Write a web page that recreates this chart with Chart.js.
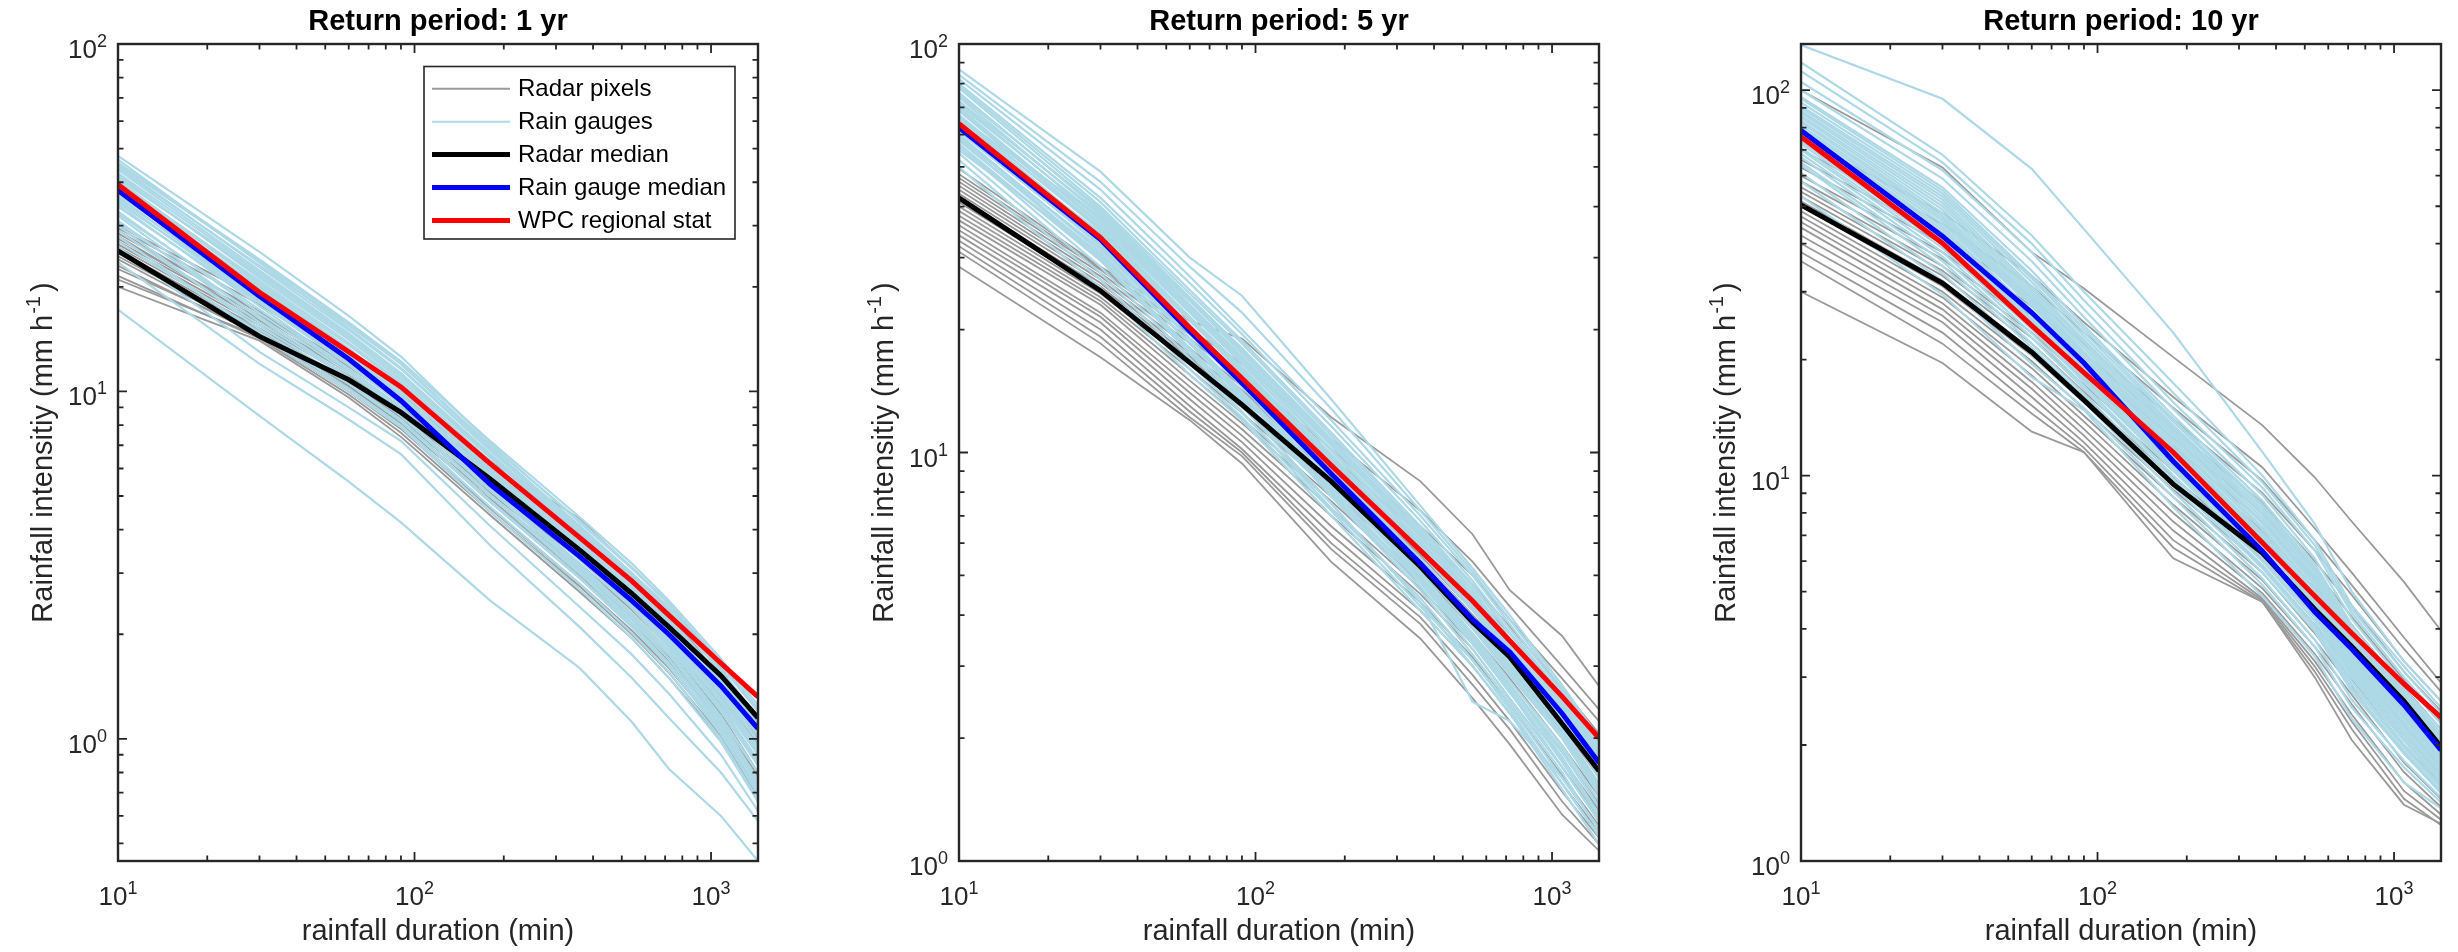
<!DOCTYPE html>
<html>
<head>
<meta charset="utf-8">
<title>Rainfall intensity-duration curves</title>
<script src="https://cdn.jsdelivr.net/npm/chart.js@4.4.1/dist/chart.umd.min.js"></script>
<style>
  body { margin: 0; background: #fff; overflow: hidden; }
  #wrap { position: relative; width: 2458px; height: 952px; }
  canvas { position: absolute; top: 0; }
</style>
</head>
<body>
<div id="wrap">
  <canvas id="p1" width="841" height="952" style="left:0px"></canvas>
  <canvas id="p2" width="842" height="952" style="left:841px"></canvas>
  <canvas id="p3" width="775" height="952" style="left:1683px"></canvas>
</div>
<script>
// durations (min) shared by every curve
const durations = [10, 30, 60, 90, 180, 360, 540, 720, 1080, 1440];

// --- return period 1 yr ---
const wpc1 = [39.4, 19.3, 13.0, 10.3, 6.2, 3.8, 2.85, 2.27, 1.65, 1.32];
const gaugeMedian1 = [37.9, 18.8, 12.4, 9.4, 5.4, 3.35, 2.5, 2.0, 1.42, 1.07];
const radarMedian1 = [25.4, 14.4, 10.8, 8.7, 5.6, 3.5, 2.62, 2.1, 1.52, 1.15];
const gauges1 = [
  [47.6, 25.2, 16.5, 12.6, 7.1, 4.2, 3.1, 2.45, 1.66, 1.22],
  [45.5, 24.0, 15.8, 12.2, 7.2, 4.35, 3.2, 2.5, 1.7, 1.25],
  [43.5, 22.3, 14.7, 11.3, 6.6, 4.0, 2.95, 2.3, 1.56, 1.15],
  [42.0, 21.2, 14.1, 10.8, 6.3, 3.8, 2.75, 2.15, 1.45, 1.05],
  [40.5, 20.3, 13.3, 10.1, 6.0, 3.6, 2.6, 2.02, 1.36, 0.98],
  [38.5, 19.6, 12.8, 9.8, 5.75, 3.45, 2.5, 1.95, 1.3, 0.92],
  [36.5, 18.3, 12.1, 9.3, 5.5, 3.3, 2.4, 1.86, 1.22, 0.86],
  [34.5, 17.6, 11.6, 9.0, 5.3, 3.2, 2.3, 1.8, 1.16, 0.8],
  [32.0, 16.2, 11.0, 8.5, 5.0, 3.0, 2.2, 1.7, 1.1, 0.75],
  [30.0, 15.1, 10.5, 8.2, 4.8, 2.9, 2.1, 1.62, 1.04, 0.69],
  [23.5, 12.0, 8.3, 6.6, 3.6, 2.1, 1.5, 1.15, 0.8, 0.58],
  [17.2, 8.5, 5.5, 4.2, 2.5, 1.6, 1.12, 0.82, 0.6, 0.445],
  [46.5, 23.5, 15.2, 11.7, 6.8, 4.1, 3.0, 2.4, 1.62, 1.2],
  [44.0, 23.0, 15.5, 12.0, 6.9, 4.1, 3.0, 2.35, 1.58, 1.15],
  [41.0, 21.8, 14.5, 11.2, 6.6, 3.95, 2.9, 2.25, 1.5, 1.08],
  [39.5, 20.5, 13.6, 10.5, 6.2, 3.7, 2.7, 2.1, 1.42, 1.02],
  [37.5, 19.0, 12.4, 9.5, 5.6, 3.4, 2.45, 1.9, 1.28, 0.9],
  [35.5, 18.0, 11.9, 9.2, 5.45, 3.3, 2.4, 1.85, 1.2, 0.84],
  [33.0, 16.8, 11.3, 8.8, 5.2, 3.1, 2.25, 1.75, 1.12, 0.76],
  [31.0, 15.8, 10.9, 8.5, 5.0, 3.0, 2.15, 1.65, 1.06, 0.72],
  [28.0, 14.5, 10.0, 7.9, 4.5, 2.7, 1.95, 1.5, 0.98, 0.66],
  [26.0, 13.0, 9.0, 7.2, 4.1, 2.4, 1.75, 1.35, 0.9, 0.62],
  [45.0, 23.8, 15.6, 12.0, 7.0, 4.25, 3.12, 2.45, 1.66, 1.2],
  [42.5, 22.0, 14.6, 11.2, 6.5, 3.9, 2.85, 2.22, 1.5, 1.1],
  [40.0, 20.8, 13.8, 10.6, 6.2, 3.72, 2.7, 2.1, 1.4, 1.02],
  [38.0, 19.8, 13.0, 10.0, 5.9, 3.55, 2.58, 2.0, 1.34, 0.95],
  [36.0, 18.9, 12.5, 9.6, 5.65, 3.4, 2.47, 1.92, 1.27, 0.9],
  [34.0, 18.0, 12.0, 9.3, 5.45, 3.28, 2.38, 1.84, 1.2, 0.85],
  [32.5, 17.2, 11.5, 8.9, 5.25, 3.15, 2.28, 1.76, 1.14, 0.8],
  [30.5, 16.4, 11.0, 8.6, 5.05, 3.05, 2.2, 1.7, 1.08, 0.74],
  [29.0, 15.5, 10.6, 8.3, 4.85, 2.92, 2.12, 1.63, 1.03, 0.7],
  [27.0, 14.8, 10.2, 8.0, 4.65, 2.8, 2.02, 1.56, 1.0, 0.67],
  [44.5, 22.8, 15.0, 11.6, 6.75, 4.05, 2.98, 2.32, 1.57, 1.13],
  [41.5, 21.5, 14.3, 11.0, 6.45, 3.85, 2.8, 2.18, 1.47, 1.06],
  [39.0, 20.0, 13.2, 10.3, 6.1, 3.65, 2.65, 2.06, 1.38, 0.99],
  [37.0, 19.3, 12.7, 9.7, 5.8, 3.5, 2.52, 1.96, 1.31, 0.93],
  [35.0, 18.6, 12.2, 9.4, 5.55, 3.35, 2.43, 1.88, 1.24, 0.87]
];
const radar1 = [
  [30.0, 18.5, 12.8, 9.8, 6.3, 4.3, 3.1, 2.45, 1.6, 1.1],
  [28.5, 17.0, 12.0, 9.2, 5.9, 3.8, 2.8, 2.2, 1.45, 1.0],
  [27.0, 16.2, 11.3, 8.8, 5.6, 3.6, 2.6, 2.05, 1.38, 0.95],
  [26.0, 15.5, 11.0, 8.6, 5.3, 3.4, 2.5, 1.95, 1.3, 0.9],
  [25.0, 15.0, 10.5, 8.3, 5.1, 3.2, 2.35, 1.85, 1.22, 0.84],
  [24.0, 14.6, 10.2, 8.0, 4.9, 3.05, 2.25, 1.75, 1.15, 0.78],
  [22.5, 14.8, 10.5, 8.2, 4.8, 2.95, 2.15, 1.68, 1.1, 0.74],
  [21.0, 14.4, 10.0, 7.8, 4.6, 2.8, 2.05, 1.6, 1.05, 0.7],
  [20.0, 14.0, 9.6, 7.4, 4.4, 2.65, 1.95, 1.5, 1.0, 0.66],
  [29.0, 16.8, 11.8, 9.3, 6.0, 4.0, 2.95, 2.3, 1.5, 1.02],
  [29.5, 17.8, 12.4, 9.6, 6.1, 4.1, 3.0, 2.35, 1.55, 1.06],
  [27.5, 16.5, 11.6, 9.0, 5.7, 3.7, 2.7, 2.1, 1.4, 0.97],
  [26.5, 15.8, 11.1, 8.7, 5.45, 3.5, 2.55, 2.0, 1.33, 0.92],
  [25.5, 15.2, 10.7, 8.4, 5.2, 3.3, 2.4, 1.9, 1.25, 0.86],
  [24.5, 14.9, 10.4, 8.1, 5.0, 3.1, 2.3, 1.8, 1.18, 0.8],
  [23.0, 14.5, 10.3, 8.1, 4.85, 3.0, 2.2, 1.72, 1.12, 0.76],
  [21.5, 14.2, 9.8, 7.6, 4.5, 2.75, 2.0, 1.55, 1.02, 0.68],
  [28.0, 16.0, 11.5, 9.0, 5.8, 3.9, 2.9, 2.25, 1.48, 1.0]
];

// --- return period 5 yr ---
const wpc5 = [63.8, 33.6, 20.2, 15.2, 9.3, 5.75, 4.33, 3.46, 2.53, 2.0];
const gaugeMedian5 = [62.4, 33.2, 19.8, 14.8, 8.87, 5.35, 3.9, 3.25, 2.3, 1.74];
const radarMedian5 = [42.0, 24.9, 16.6, 13.1, 8.5, 5.25, 3.84, 3.16, 2.17, 1.66];
const gauges5 = [
  [86.7, 48.7, 30.0, 24.2, 13.5, 7.4, 5.2, 4.0, 2.7, 2.0],
  [82.0, 44.0, 27.0, 20.0, 12.0, 7.0, 5.0, 3.8, 2.6, 1.93],
  [78.0, 40.0, 24.5, 18.5, 11.0, 6.5, 4.7, 3.6, 2.5, 1.85],
  [74.0, 38.0, 23.0, 17.2, 10.4, 6.2, 4.5, 3.45, 2.4, 1.78],
  [70.0, 36.0, 22.0, 16.5, 9.9, 5.9, 4.3, 3.3, 2.3, 1.7],
  [67.0, 35.0, 21.0, 15.8, 9.5, 5.7, 4.1, 3.15, 2.2, 1.6],
  [65.0, 34.0, 20.5, 15.2, 9.1, 5.5, 3.9, 3.0, 2.1, 1.52],
  [62.0, 32.0, 19.5, 14.5, 8.7, 5.2, 3.7, 2.85, 2.0, 1.45],
  [60.0, 31.0, 18.5, 13.8, 8.3, 5.0, 3.5, 2.7, 1.85, 1.35],
  [57.0, 29.5, 17.5, 13.0, 7.9, 4.7, 3.3, 2.5, 1.7, 1.25],
  [54.0, 27.5, 16.5, 12.5, 7.5, 4.3, 2.45, 2.2, 1.6, 1.2],
  [50.0, 25.3, 15.5, 12.0, 7.0, 4.1, 3.0, 2.3, 1.5, 1.1],
  [84.0, 46.0, 28.5, 22.0, 12.8, 7.2, 5.1, 3.9, 2.65, 1.96],
  [80.0, 42.0, 26.0, 19.5, 11.6, 6.8, 4.85, 3.7, 2.55, 1.9],
  [76.0, 39.0, 23.8, 17.8, 10.7, 6.35, 4.6, 3.5, 2.45, 1.8],
  [72.0, 37.0, 22.5, 16.8, 10.1, 6.0, 4.4, 3.35, 2.35, 1.72],
  [68.5, 35.5, 21.5, 16.2, 9.7, 5.8, 4.2, 3.2, 2.25, 1.65],
  [63.5, 33.0, 20.0, 14.8, 8.9, 5.35, 3.8, 2.9, 2.05, 1.5],
  [58.5, 30.0, 18.0, 13.4, 8.1, 4.85, 3.4, 2.6, 1.78, 1.3],
  [52.0, 26.5, 16.0, 12.2, 7.2, 4.2, 3.1, 2.35, 1.55, 1.15],
  [66.0, 37.5, 23.5, 17.5, 10.5, 6.3, 4.4, 3.3, 2.25, 1.62],
  [75.0, 39.5, 24.0, 18.0, 10.8, 6.4, 4.6, 3.5, 2.45, 1.82],
  [71.0, 37.5, 22.8, 17.0, 10.2, 6.1, 4.4, 3.35, 2.35, 1.74],
  [69.0, 36.5, 22.2, 16.6, 9.8, 5.85, 4.25, 3.25, 2.28, 1.68],
  [66.5, 35.2, 21.2, 16.0, 9.6, 5.75, 4.15, 3.18, 2.22, 1.62],
  [64.0, 33.8, 20.4, 15.4, 9.2, 5.5, 3.95, 3.05, 2.12, 1.55],
  [61.0, 32.3, 19.6, 14.6, 8.8, 5.25, 3.75, 2.88, 2.02, 1.47],
  [59.0, 31.5, 19.0, 14.1, 8.5, 5.1, 3.6, 2.76, 1.92, 1.4],
  [56.0, 29.8, 17.8, 13.3, 8.0, 4.8, 3.4, 2.58, 1.78, 1.3],
  [55.0, 30.5, 18.6, 14.0, 8.4, 5.0, 3.55, 2.7, 1.88, 1.36],
  [72.5, 38.5, 23.5, 17.6, 10.6, 6.3, 4.5, 3.42, 2.4, 1.76],
  [79.0, 41.0, 25.0, 18.8, 11.2, 6.6, 4.75, 3.62, 2.52, 1.87],
  [63.0, 34.5, 21.2, 15.6, 9.3, 5.45, 3.85, 2.95, 2.06, 1.5],
  [60.0, 30.0, 17.5, 13.0, 7.5, 4.3, 3.0, 2.3, 1.55, 1.15],
  [56.0, 28.5, 17.0, 12.6, 7.3, 4.4, 3.1, 2.4, 1.6, 1.2],
  [64.0, 32.0, 19.0, 14.0, 8.2, 4.8, 3.4, 2.6, 1.7, 1.25],
  [70.0, 35.0, 20.5, 15.0, 8.6, 5.0, 3.5, 2.7, 1.8, 1.3],
  [58.0, 30.5, 18.5, 13.6, 7.8, 4.6, 3.2, 2.45, 1.65, 1.18],
  [66.0, 34.0, 20.0, 14.6, 8.4, 4.9, 3.45, 2.65, 1.75, 1.28]
];
const radar5 = [
  [49.5, 28.5, 21.0, 19.0, 12.2, 8.5, 6.3, 4.6, 3.56, 2.68],
  [47.0, 28.0, 19.5, 15.5, 10.2, 6.6, 5.0, 3.9, 2.8, 2.2],
  [45.0, 27.0, 18.5, 14.5, 9.5, 6.0, 4.5, 3.6, 2.55, 1.95],
  [43.0, 26.0, 17.5, 14.0, 9.0, 5.6, 4.1, 3.3, 2.3, 1.75],
  [41.0, 25.0, 17.0, 13.3, 8.6, 5.4, 3.9, 3.1, 2.15, 1.6],
  [39.0, 24.0, 16.0, 12.5, 8.1, 5.1, 3.7, 2.9, 2.0, 1.5],
  [37.0, 23.0, 15.0, 11.8, 7.6, 4.8, 3.5, 2.7, 1.85, 1.38],
  [35.0, 21.5, 14.0, 11.0, 7.0, 4.5, 3.3, 2.5, 1.7, 1.28],
  [33.0, 20.0, 13.0, 10.2, 6.3, 4.1, 3.0, 2.3, 1.55, 1.18],
  [31.0, 18.5, 12.2, 9.8, 5.8, 3.8, 2.7, 2.1, 1.4, 1.1],
  [28.5, 17.1, 12.0, 9.4, 5.4, 3.5, 2.5, 1.93, 1.3, 1.06],
  [48.0, 28.3, 20.0, 16.5, 10.8, 7.2, 5.4, 4.2, 3.0, 2.35],
  [46.0, 27.5, 19.0, 15.0, 9.8, 6.3, 4.75, 3.75, 2.65, 2.05],
  [44.0, 26.5, 18.0, 14.2, 9.2, 5.8, 4.3, 3.45, 2.4, 1.85],
  [42.0, 25.5, 17.2, 13.6, 8.8, 5.5, 4.0, 3.2, 2.2, 1.68],
  [40.0, 24.5, 16.5, 12.9, 8.3, 5.25, 3.8, 3.0, 2.07, 1.55],
  [38.0, 23.5, 15.5, 12.1, 7.8, 4.95, 3.6, 2.8, 1.92, 1.44],
  [36.0, 22.0, 14.5, 11.4, 7.3, 4.65, 3.4, 2.6, 1.78, 1.33],
  [34.0, 20.8, 13.5, 10.6, 6.6, 4.3, 3.15, 2.4, 1.62, 1.22],
  [32.0, 19.2, 12.6, 10.0, 6.0, 3.95, 2.85, 2.2, 1.48, 1.14]
];

// --- return period 10 yr ---
const wpc10 = [75.7, 40.1, 24.5, 18.5, 11.5, 6.7, 4.87, 3.9, 2.88, 2.36];
const gaugeMedian10 = [78.6, 41.8, 26.5, 19.6, 10.9, 6.37, 4.43, 3.55, 2.54, 1.94];
const radarMedian10 = [50.4, 31.6, 20.9, 15.7, 9.5, 6.3, 4.5, 3.6, 2.6, 1.98];
const gauges10 = [
  [131.0, 95.0, 62.5, 43.6, 23.5, 11.5, 7.5, 5.0, 3.3, 2.6],
  [118.0, 68.0, 42.0, 30.0, 17.4, 10.0, 6.8, 4.6, 3.2, 2.5],
  [105.0, 62.0, 38.0, 27.0, 15.5, 9.3, 6.4, 4.4, 3.0, 2.34],
  [96.0, 56.0, 34.0, 24.5, 14.3, 8.6, 5.9, 4.1, 2.8, 2.2],
  [90.0, 52.0, 31.0, 22.5, 13.3, 8.0, 5.5, 3.85, 2.65, 2.05],
  [85.0, 48.0, 29.0, 21.0, 12.5, 7.5, 5.2, 3.6, 2.5, 1.95],
  [80.0, 45.0, 27.5, 20.0, 11.8, 7.0, 4.9, 3.4, 2.35, 1.82],
  [75.0, 42.0, 25.5, 18.7, 11.0, 6.6, 4.6, 3.2, 2.2, 1.7],
  [70.0, 39.0, 24.0, 17.5, 10.3, 6.1, 4.3, 3.0, 2.05, 1.6],
  [64.0, 35.0, 21.5, 16.0, 9.4, 5.6, 3.95, 2.75, 1.9, 1.5],
  [58.0, 32.0, 19.5, 15.0, 8.8, 5.2, 3.6, 2.5, 1.75, 1.42],
  [53.0, 29.5, 18.0, 14.8, 8.3, 4.86, 3.4, 2.34, 1.6, 1.37],
  [112.0, 65.0, 40.0, 28.5, 16.4, 9.6, 6.6, 4.5, 3.1, 2.42],
  [100.0, 59.0, 36.0, 25.8, 14.9, 8.9, 6.1, 4.25, 2.9, 2.27],
  [93.0, 54.0, 32.5, 23.5, 13.8, 8.3, 5.7, 3.95, 2.72, 2.12],
  [87.5, 50.0, 30.0, 21.8, 12.9, 7.75, 5.35, 3.72, 2.58, 2.0],
  [82.5, 46.5, 28.2, 20.5, 12.1, 7.25, 5.05, 3.5, 2.42, 1.88],
  [77.5, 43.5, 26.5, 19.3, 11.4, 6.8, 4.75, 3.3, 2.28, 1.76],
  [72.5, 40.5, 24.8, 18.1, 10.6, 6.35, 4.45, 3.1, 2.12, 1.65],
  [67.0, 37.0, 22.8, 16.8, 9.8, 5.85, 4.1, 2.87, 1.97, 1.55],
  [61.0, 33.5, 20.5, 15.5, 9.1, 5.4, 3.75, 2.62, 1.82, 1.46],
  [95.0, 55.0, 33.0, 24.0, 14.0, 8.4, 5.8, 4.0, 2.76, 2.15],
  [91.0, 53.0, 31.8, 23.0, 13.5, 8.15, 5.6, 3.9, 2.68, 2.08],
  [88.5, 51.0, 30.5, 22.2, 13.1, 7.9, 5.45, 3.8, 2.62, 2.03],
  [86.0, 49.0, 29.5, 21.4, 12.7, 7.6, 5.28, 3.66, 2.54, 1.97],
  [83.5, 47.2, 28.6, 20.8, 12.3, 7.35, 5.1, 3.55, 2.46, 1.91],
  [81.0, 45.8, 27.8, 20.2, 11.9, 7.1, 4.95, 3.45, 2.38, 1.85],
  [78.5, 44.2, 26.8, 19.6, 11.6, 6.9, 4.8, 3.35, 2.3, 1.79],
  [76.0, 42.8, 26.0, 19.0, 11.2, 6.7, 4.68, 3.25, 2.24, 1.73],
  [73.5, 41.2, 25.2, 18.4, 10.8, 6.45, 4.5, 3.15, 2.16, 1.68],
  [71.0, 39.8, 24.4, 17.8, 10.45, 6.25, 4.38, 3.05, 2.08, 1.62],
  [68.5, 38.0, 23.4, 17.1, 10.0, 6.0, 4.2, 2.93, 2.0, 1.57],
  [65.0, 36.0, 22.0, 16.3, 9.6, 5.75, 4.02, 2.8, 1.93, 1.52]
];
const radar10 = [
  [100.0, 63.0, 38.0, 30.6, 20.3, 13.5, 9.9, 7.6, 5.3, 3.96],
  [75.0, 48.0, 33.0, 25.0, 16.0, 10.5, 7.3, 5.6, 3.8, 2.9],
  [66.0, 42.0, 29.0, 22.0, 14.0, 9.0, 6.4, 4.9, 3.3, 2.6],
  [60.0, 38.0, 26.0, 19.5, 12.5, 8.0, 5.7, 4.3, 2.95, 2.3],
  [56.0, 35.0, 23.5, 17.8, 11.3, 7.2, 5.1, 3.9, 2.7, 2.1],
  [53.0, 33.0, 22.0, 16.5, 10.3, 6.6, 4.7, 3.55, 2.45, 1.9],
  [50.0, 31.0, 20.5, 15.5, 9.6, 6.1, 4.3, 3.25, 2.25, 1.75],
  [47.0, 29.0, 19.0, 14.3, 8.8, 5.6, 3.9, 2.95, 2.0, 1.58],
  [44.0, 27.0, 17.5, 13.2, 8.0, 5.1, 3.6, 2.7, 1.8, 1.45],
  [40.0, 25.0, 16.0, 12.2, 7.2, 4.8, 3.3, 2.4, 1.6, 1.32],
  [36.0, 22.0, 14.5, 11.5, 6.5, 4.7, 3.1, 2.2, 1.45, 1.24],
  [30.0, 19.6, 13.0, 11.5, 6.1, 4.7, 3.0, 2.06, 1.4, 1.25],
  [70.0, 45.0, 31.0, 23.5, 15.0, 9.7, 6.8, 5.2, 3.55, 2.75],
  [63.0, 40.0, 27.5, 20.8, 13.2, 8.5, 6.0, 4.6, 3.1, 2.45],
  [58.0, 36.5, 24.8, 18.6, 11.9, 7.6, 5.4, 4.1, 2.82, 2.2],
  [54.5, 34.0, 22.8, 17.2, 10.8, 6.9, 4.9, 3.72, 2.57, 2.0],
  [51.5, 32.0, 21.2, 16.0, 9.9, 6.35, 4.5, 3.4, 2.35, 1.82],
  [48.5, 30.0, 19.8, 14.9, 9.2, 5.85, 4.1, 3.1, 2.12, 1.66],
  [45.5, 28.0, 18.2, 13.8, 8.4, 5.35, 3.75, 2.82, 1.9, 1.52],
  [42.0, 26.0, 16.8, 12.7, 7.6, 4.95, 3.45, 2.55, 1.7, 1.38],
  [38.0, 23.5, 15.2, 11.8, 6.8, 4.75, 3.2, 2.3, 1.52, 1.28]
];

// axis ranges and texts
const xRange = [10, 1440];
const yRange1 = [0.445, 100];
const yRange5 = [1, 100];
const yRange10 = [1, 131.8];
const panelTitles = ['Return period: 1 yr', 'Return period: 5 yr', 'Return period: 10 yr'];
const legendLabels = ['Radar pixels', 'Rain gauges', 'Radar median', 'Rain gauge median', 'WPC regional stat'];
const xLabel = 'rainfall duration (min)';
const yLabel = ['Rainfall intensitiy (mm h', '-1', ')'];

const FONT = "'Liberation Sans', Arial, Helvetica, sans-serif";
const AXIS = '#262626';
const GRAY = '#999999';
const LIGHTBLUE = '#add8e6';

function pts(vals) {
  return vals.map((v, i) => ({ x: durations[i], y: v }));
}

function logTicks(min, max) {
  const out = [];
  for (let e = Math.floor(Math.log10(min)); e <= Math.ceil(Math.log10(max)); e++) {
    for (let m = 1; m <= 9; m++) {
      const v = m * Math.pow(10, e);
      if (v >= min * 0.9999 && v <= max * 1.0001) out.push({ v: v, major: m === 1, e: e });
    }
  }
  return out;
}

// "10" with a raised exponent, MATLAB style
function drawPow(ctx, exp, x, baseY, align) {
  ctx.font = '26px ' + FONT;
  const wb = ctx.measureText('10').width;
  ctx.font = '18px ' + FONT;
  const we = ctx.measureText(String(exp)).width;
  const total = wb + we;
  const x0 = align === 'right' ? x - total : x - total / 2;
  ctx.textAlign = 'left';
  ctx.textBaseline = 'alphabetic';
  ctx.font = '26px ' + FONT;
  ctx.fillText('10', x0, baseY);
  ctx.font = '18px ' + FONT;
  ctx.fillText(String(exp), x0 + wb, baseY - 11);
}

const framePlugin = {
  id: 'matlabFrame',
  afterDatasetsDraw(chart, args, opts) {
    const { ctx, chartArea: a } = chart;
    const xs = chart.scales.x, ys = chart.scales.y;
    ctx.save();

    // inward ticks on all four sides
    ctx.strokeStyle = AXIS;
    ctx.lineWidth = 1.8;
    ctx.beginPath();
    logTicks(xs.min, xs.max).forEach(t => {
      const px = xs.getPixelForValue(t.v);
      const len = t.major ? 9 : 5.5;
      ctx.moveTo(px, a.bottom); ctx.lineTo(px, a.bottom - len);
      ctx.moveTo(px, a.top); ctx.lineTo(px, a.top + len);
    });
    logTicks(ys.min, ys.max).forEach(t => {
      const py = ys.getPixelForValue(t.v);
      const len = t.major ? 9 : 5.5;
      ctx.moveTo(a.left, py); ctx.lineTo(a.left + len, py);
      ctx.moveTo(a.right, py); ctx.lineTo(a.right - len, py);
    });
    ctx.stroke();

    // box
    ctx.lineWidth = 2.4;
    ctx.strokeRect(a.left, a.top, a.right - a.left, a.bottom - a.top);

    // tick labels
    ctx.fillStyle = AXIS;
    logTicks(xs.min, xs.max).filter(t => t.major).forEach(t => {
      drawPow(ctx, t.e, xs.getPixelForValue(t.v), a.bottom + 44, 'center');
    });
    logTicks(ys.min, ys.max).filter(t => t.major).forEach(t => {
      drawPow(ctx, t.e, a.left - 11, ys.getPixelForValue(t.v) + 14, 'right');
    });

    // axis labels
    ctx.font = '29px ' + FONT;
    ctx.textAlign = 'center';
    ctx.textBaseline = 'alphabetic';
    ctx.fillText(xLabel, (a.left + a.right) / 2, a.bottom + 79);

    ctx.save();
    ctx.translate(a.left - 66, (a.top + a.bottom) / 2);
    ctx.rotate(-Math.PI / 2);
    ctx.textAlign = 'left';
    ctx.font = '29px ' + FONT;
    const w0 = ctx.measureText(yLabel[0]).width;
    const w2 = ctx.measureText(yLabel[2]).width;
    ctx.font = '20px ' + FONT;
    const w1 = ctx.measureText(yLabel[1]).width;
    const gap = 5;
    let lx = -(w0 + w1 + gap + w2) / 2;
    ctx.font = '29px ' + FONT;
    ctx.fillText(yLabel[0], lx, 0);
    ctx.font = '20px ' + FONT;
    ctx.fillText(yLabel[1], lx + w0 + 1, -12);
    ctx.font = '29px ' + FONT;
    ctx.fillText(yLabel[2], lx + w0 + w1 + gap, 0);
    ctx.restore();

    // legend box (first panel only)
    if (opts.legend) {
      const bl = a.right - 334, bt = a.top + 22.5, bw = 311, bh = 172.5;
      ctx.fillStyle = '#fff';
      ctx.fillRect(bl, bt, bw, bh);
      ctx.strokeStyle = AXIS;
      ctx.lineWidth = 1.6;
      ctx.strokeRect(bl, bt, bw, bh);
      const items = [
        [legendLabels[0], GRAY, 2],
        [legendLabels[1], LIGHTBLUE, 2],
        [legendLabels[2], '#000000', 5],
        [legendLabels[3], '#0000ff', 5],
        [legendLabels[4], '#ff0000', 5]
      ];
      ctx.font = '24px ' + FONT;
      ctx.textAlign = 'left';
      ctx.textBaseline = 'middle';
      items.forEach((it, i) => {
        const ry = bt + 22.3 + i * 32.9;
        ctx.strokeStyle = it[1];
        ctx.lineWidth = it[2];
        ctx.beginPath();
        ctx.moveTo(bl + 8, ry);
        ctx.lineTo(bl + 86, ry);
        ctx.stroke();
        ctx.fillStyle = '#000';
        ctx.fillText(it[0], bl + 94, ry + 1);
      });
    }
    ctx.restore();
  }
};

// first dataset is drawn on top: medians, then gauges, then radar pixels
function buildDatasets(wpc, gaugeMed, radarMed, gauges, radar) {
  const sets = [
    { label: legendLabels[4], data: pts(wpc), borderColor: '#ff0000', borderWidth: 5 },
    { label: legendLabels[3], data: pts(gaugeMed), borderColor: '#0000ff', borderWidth: 5 },
    { label: legendLabels[2], data: pts(radarMed), borderColor: '#000000', borderWidth: 5 }
  ];
  gauges.forEach(g => sets.push({ label: legendLabels[1], data: pts(g), borderColor: LIGHTBLUE, borderWidth: 2.2 }));
  radar.forEach(r => sets.push({ label: legendLabels[0], data: pts(r), borderColor: GRAY, borderWidth: 1.8 }));
  sets.forEach(s => { s.pointRadius = 0; s.fill = false; s.tension = 0; });
  return sets;
}

function makePanel(id, title, yRange, datasets, showLegend) {
  const canvas = document.getElementById(id);
  const padRight = canvas.width - 118 - 640;
  return new Chart(canvas, {
    type: 'line',
    data: { datasets: datasets },
    options: {
      responsive: false,
      animation: false,
      devicePixelRatio: 1,
      layout: { padding: { left: 0, right: padRight, top: 0, bottom: 0 } },
      plugins: {
        legend: { display: false },
        tooltip: { enabled: false },
        title: {
          display: true,
          text: title,
          fullSize: false,
          color: '#000',
          font: { family: FONT, size: 29, weight: 'bold', lineHeight: 1.2 },
          padding: { top: 4.6, bottom: 4.6 }
        },
        matlabFrame: { legend: showLegend }
      },
      scales: {
        x: {
          type: 'logarithmic', min: xRange[0], max: xRange[1],
          ticks: { display: false }, grid: { display: false }, border: { display: false },
          afterFit: s => { s.height = 91; }
        },
        y: {
          type: 'logarithmic', min: yRange[0], max: yRange[1],
          ticks: { display: false }, grid: { display: false }, border: { display: false },
          afterFit: s => { s.width = 118; }
        }
      }
    },
    plugins: [framePlugin]
  });
}

makePanel('p1', panelTitles[0], yRange1, buildDatasets(wpc1, gaugeMedian1, radarMedian1, gauges1, radar1), true);
makePanel('p2', panelTitles[1], yRange5, buildDatasets(wpc5, gaugeMedian5, radarMedian5, gauges5, radar5), false);
makePanel('p3', panelTitles[2], yRange10, buildDatasets(wpc10, gaugeMedian10, radarMedian10, gauges10, radar10), false);
</script>
</body>
</html>
